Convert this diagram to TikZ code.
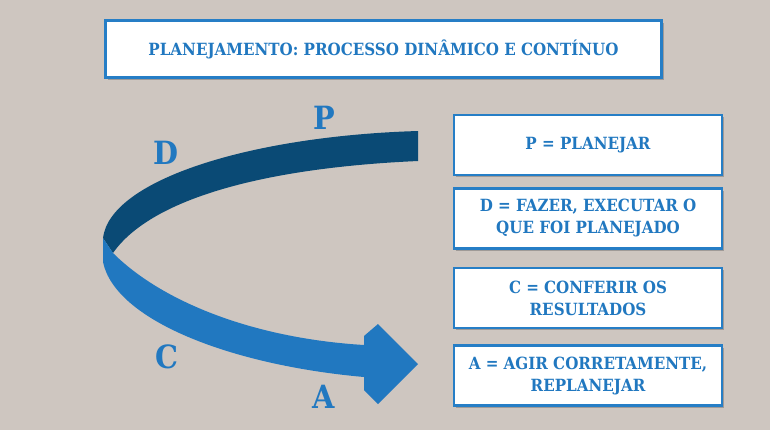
\documentclass[tikz,border=0pt]{standalone}
\usepackage{fontspec}
\setmainfont{DejaVu Serif Condensed}
\usepackage{tikz}
\usetikzlibrary{shadows}
\usepackage{xcolor}
\definecolor{bgGray}{RGB}{206, 198, 192}
\definecolor{pdcaBlue}{RGB}{33, 120, 192}
\definecolor{pdcaDark}{RGB}{10, 74, 117}
\definecolor{boxLine}{RGB}{38, 126, 198}

\begin{document}
\begin{tikzpicture}[x=0.75pt, y=-0.75pt,
  infobox/.style={draw=boxLine, line width=2.2pt, fill=white, align=center,
    text=pdcaBlue, font=\fontsize{12.6}{16.5}\selectfont\bfseries,
    minimum width=201pt, minimum height=45pt, inner sep=2pt,
    drop shadow={shadow xshift=1.8pt, shadow yshift=-1.8pt, opacity=0.45, fill=black!60}},
  letter/.style={text=pdcaBlue, font=\fontsize{24}{24}\selectfont\bfseries, inner sep=0pt}]
  % Background
  \fill[bgGray] (0,0) rectangle (770,430);

  % Title
  \node[infobox, minimum width=417pt, minimum height=43pt] (title) at (383.5,49)
    {PLANEJAMENTO: PROCESSO DINÂMICO E CONTÍNUO};

  % Right column of boxes
  \node[infobox] (plan) at (588,145) {P = PLANEJAR};
  \node[infobox] (do) at (588,218.5) {D = FAZER, EXECUTAR O\\QUE FOI PLANEJADO};
  \node[infobox] (check) at (588,298) {C = CONFERIR OS\\RESULTADOS};
  \node[infobox] (act) at (588,375.5) {A = AGIR CORRETAMENTE,\\REPLANEJAR};

  % Ribbon arrow, dark part
  \fill[pdcaDark] (418,131) .. controls (250,136) and (110,180) .. (103,238)
    -- (113,253) .. controls (150,200) and (260,168) .. (418,161) -- cycle;
  % Ribbon arrow, light part with head
  \fill[pdcaBlue] (103,238) -- (103,262) .. controls (115,320) and (230,365) .. (364,377)
    -- (364,390) -- (378,404) -- (418,364) -- (378,324) -- (364,336) -- (364,345)
    .. controls (250,338) and (160,300) .. (113,253) -- cycle;

  % Letters
  \node[letter] (lP) at (324,118) {P};
  \node[letter] (lD) at (166,153) {D};
  \node[letter] (lC) at (167,357) {C};
  \node[letter] (lA) at (324,397) {A};
\end{tikzpicture}
\end{document}
